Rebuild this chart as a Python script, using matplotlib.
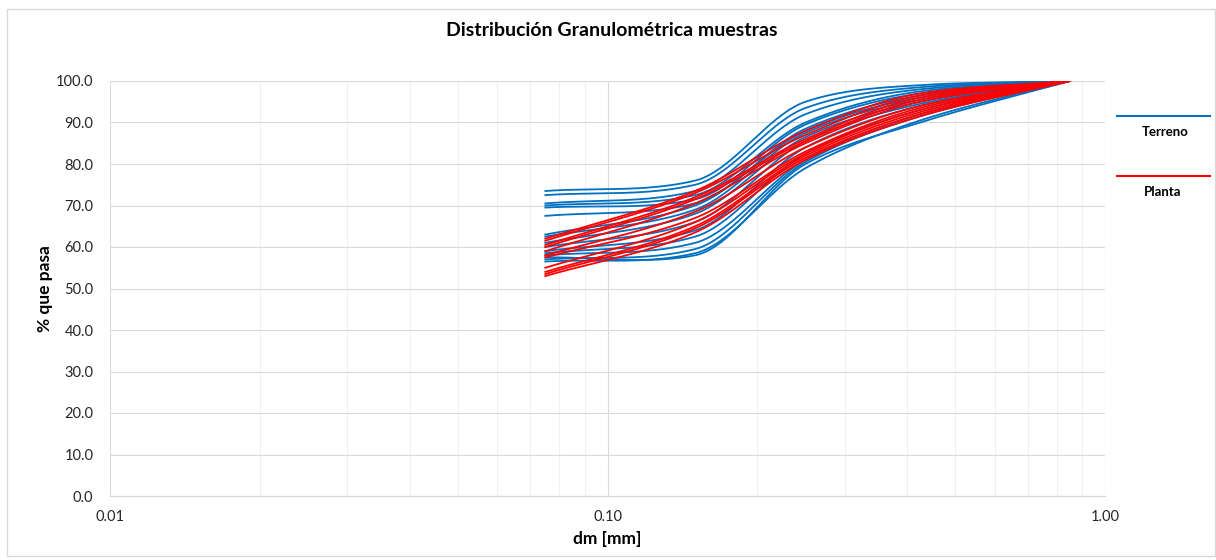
import numpy as np
import matplotlib
matplotlib.use("Agg")
import matplotlib.pyplot as plt
from matplotlib.lines import Line2D
from matplotlib.patches import Rectangle
from matplotlib.ticker import FixedLocator, FuncFormatter, LogLocator, NullFormatter

plt.rcParams['font.family'] = ['Lato', 'DejaVu Sans']

# tamices (mm)
dm = [0.075, 0.15, 0.25, 0.425, 0.85]

# % que pasa - muestras de terreno
terreno = [
    [73.5, 76.0, 95.0, 99.0, 100],
    [72.5, 75.0, 93.5, 98.5, 100],
    [70.5, 73.5, 92.0, 98.0, 100],
    [70.0, 72.5, 90.0, 97.5, 100],
    [69.5, 71.5, 89.5, 97.0, 100],
    [67.5, 70.5, 88.5, 96.5, 100],
    [63.0, 70.0, 88.0, 96.0, 100],
    [62.5, 69.0, 87.5, 95.5, 100],
    [61.0, 68.0, 86.5, 95.0, 100],
    [60.0, 66.0, 85.5, 94.5, 100],
    [59.0, 64.0, 84.0, 94.0, 100],
    [58.5, 62.5, 82.5, 93.0, 100],
    [58.0, 61.0, 81.0, 92.0, 100],
    [57.0, 59.5, 80.5, 91.5, 100],
    [56.5, 58.5, 79.0, 90.5, 100],
    [57.5, 58.0, 80.0, 90.0, 100],
]

# % que pasa - muestras de planta
planta = [
    [62.0, 73.5, 88.0, 97.0, 100],
    [61.5, 73.0, 87.0, 96.5, 100],
    [60.5, 72.0, 86.0, 96.0, 100],
    [60.0, 71.5, 85.5, 95.5, 100],
    [59.0, 70.5, 85.0, 95.0, 100],
    [58.0, 68.5, 84.0, 94.0, 100],
    [57.5, 67.0, 83.0, 93.5, 100],
    [55.0, 66.0, 82.5, 93.0, 100],
    [54.0, 65.0, 82.0, 92.5, 100],
    [53.5, 64.5, 81.5, 92.0, 100],
    [53.0, 63.5, 81.0, 91.5, 100],
]

color_terreno = '#0070C0'
color_planta = '#FF0000'


def suavizar(x, y, n=60):
    # curva suavizada (hermite) en espacio log-x; tangente = media entre
    # catmull-rom y monotona para evitar picos
    u = np.log10(x)
    y = np.asarray(y, float)
    h = np.diff(u)
    d = np.diff(y) / h
    m = np.zeros_like(y)
    for i in range(1, len(y) - 1):
        m_cr = (y[i + 1] - y[i - 1]) / (u[i + 1] - u[i - 1])
        m_mo = 0.0
        if d[i - 1] * d[i] > 0:
            w1 = 2 * h[i] + h[i - 1]
            w2 = h[i] + 2 * h[i - 1]
            m_mo = (w1 + w2) / (w1 / d[i - 1] + w2 / d[i])
        m[i] = 0.5 * (m_cr + m_mo)
    m[0] = d[0]
    m[-1] = d[-1]
    us, ys = [], []
    t = np.linspace(0, 1, n)
    h00 = 2 * t ** 3 - 3 * t ** 2 + 1
    h10 = t ** 3 - 2 * t ** 2 + t
    h01 = -2 * t ** 3 + 3 * t ** 2
    h11 = t ** 3 - t ** 2
    for i in range(len(h)):
        seg = h00 * y[i] + h10 * h[i] * m[i] + h01 * y[i + 1] + h11 * h[i] * m[i + 1]
        useg = u[i] + t * h[i]
        if i > 0:
            seg, useg = seg[1:], useg[1:]
        us.append(useg)
        ys.append(seg)
    return 10 ** np.concatenate(us), np.concatenate(ys)


fig = plt.figure(figsize=(12.16, 5.6), dpi=100)
ax = fig.add_axes([110 / 1216, 1 - 496 / 560, (1105 - 110) / 1216, (496 - 81) / 560])

for serie in terreno:
    xs, ys = suavizar(dm, serie)
    ax.plot(xs, ys, color=color_terreno, lw=1.3, zorder=3)
for serie in planta:
    xs, ys = suavizar(dm, serie)
    ax.plot(xs, ys, color=color_planta, lw=1.3, zorder=3)

ax.set_xscale('log')
ax.set_xlim(0.01, 1.0)
ax.set_ylim(0, 100)
ax.xaxis.set_major_locator(FixedLocator([0.01, 0.1, 1.0]))
ax.xaxis.set_major_formatter(FuncFormatter(lambda v, p: f'{v:.2f}'))
ax.xaxis.set_minor_locator(LogLocator(base=10, subs=np.arange(2, 10)))
ax.xaxis.set_minor_formatter(NullFormatter())
ax.set_yticks(np.arange(0, 101, 10))
ax.yaxis.set_major_formatter(FuncFormatter(lambda v, p: f'{v:.1f}'))

ax.grid(True, which='major', color='#d9d9d9', lw=0.8, zorder=0)
ax.grid(True, which='minor', axis='x', color='#f0f0f0', lw=0.8, zorder=0)
ax.tick_params(which='both', length=0, labelsize=10.5, colors='#262626')
ax.tick_params(axis='x', pad=10)
ax.tick_params(axis='y', pad=12)
for s in ['top', 'right', 'left']:
    ax.spines[s].set_visible(False)
ax.spines['bottom'].set_color('#d9d9d9')

ax.set_xlabel('dm [mm]', fontsize=12.5, fontweight='bold', labelpad=5)
ax.set_ylabel('% que pasa', fontsize=12.5, fontweight='bold', labelpad=2)

fig.text(612 / 1216, 1 - 30 / 560, 'Distribución Granulométrica muestras',
         ha='center', va='center', fontsize=14, fontweight='bold')

# leyenda a la derecha
fig.add_artist(Line2D([1117 / 1216, 1210 / 1216], [1 - 116 / 560] * 2, color=color_terreno, lw=1.5))
fig.text(1165 / 1216, 1 - 132 / 560, 'Terreno', ha='center', va='center', fontsize=9.5, fontweight='bold')
fig.add_artist(Line2D([1117 / 1216, 1210 / 1216], [1 - 176 / 560] * 2, color=color_planta, lw=1.5))
fig.text(1163 / 1216, 1 - 192 / 560, 'Planta', ha='center', va='center', fontsize=9.5, fontweight='bold')

# borde del grafico
fig.add_artist(Rectangle((7 / 1216, 1 - 556 / 560), 1208 / 1216, 547 / 560,
                         transform=fig.transFigure, fill=False, edgecolor='#d9d9d9', lw=1))

fig.savefig('out.png', dpi=100, facecolor='white')
